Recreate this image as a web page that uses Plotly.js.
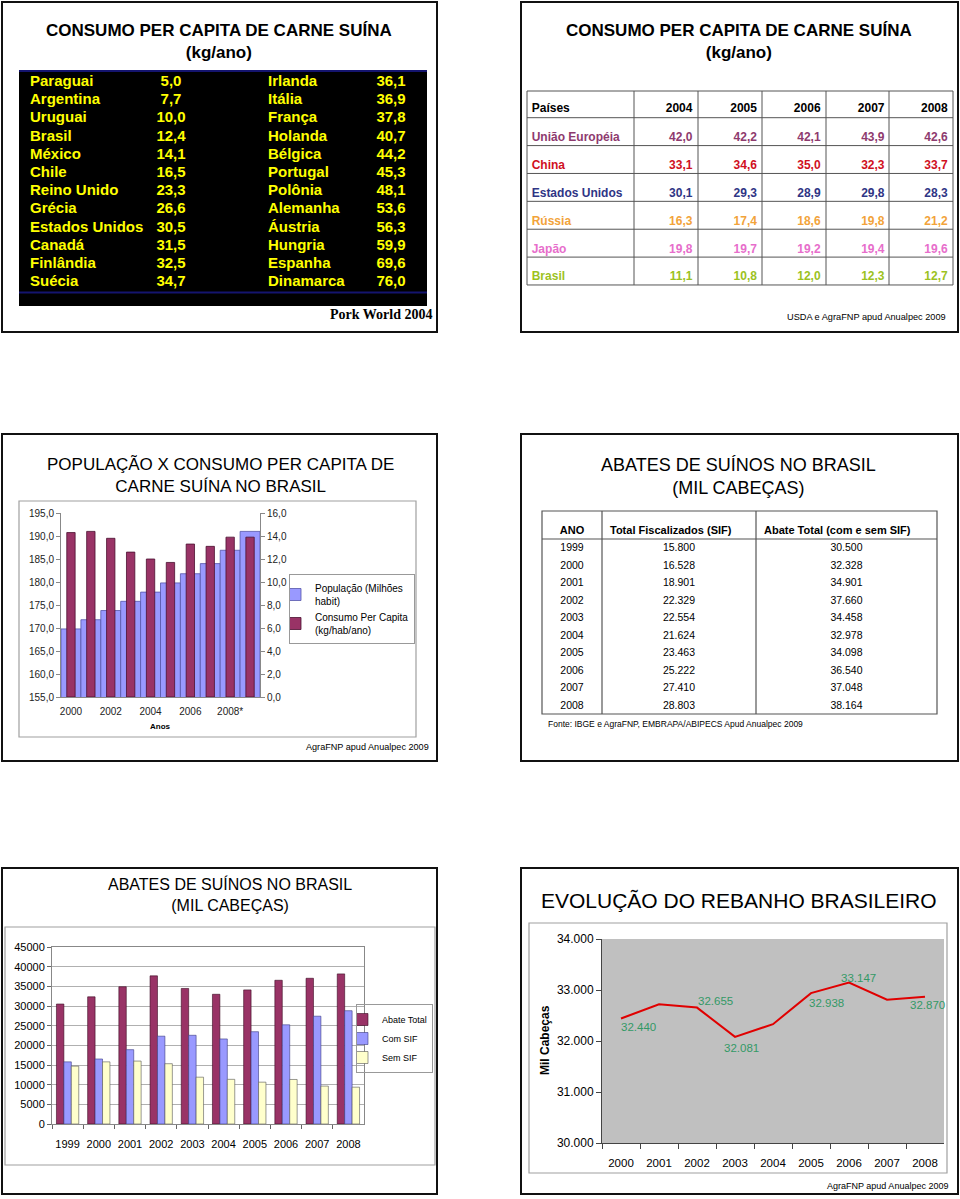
<!DOCTYPE html>
<html><head><meta charset="utf-8">
<script src="https://cdn.plot.ly/plotly-3.0.1.min.js"></script>
<style>html,body{margin:0;padding:0;background:#fff;}#chart{width:960px;height:1199px;}</style>
</head><body><div id="chart"></div>
<script>
// ---------------- DATA ----------------
const consumoPaises1 = ['Paraguai','Argentina','Uruguai','Brasil','México','Chile','Reino Unido','Grécia','Estados Unidos','Canadá','Finlândia','Suécia'];
const consumoValores1 = [5.0,7.7,10.0,12.4,14.1,16.5,23.3,26.6,30.5,31.5,32.5,34.7];
const consumoPaises2 = ['Irlanda','Itália','França','Holanda','Bélgica','Portugal','Polônia','Alemanha','Áustria','Hungria','Espanha','Dinamarca'];
const consumoValores2 = [36.1,36.9,37.8,40.7,44.2,45.3,48.1,53.6,56.3,59.9,69.6,76.0];

const anosConsumo = ['2004','2005','2006','2007','2008'];
const paisesConsumo = ['União Européia','China','Estados Unidos','Rússia','Japão','Brasil'];
const ueConsumo = [42.0,42.2,42.1,43.9,42.6];
const chinaConsumo = [33.1,34.6,35.0,32.3,33.7];
const euaConsumo = [30.1,29.3,28.9,29.8,28.3];
const russiaConsumo = [16.3,17.4,18.6,19.8,21.2];
const japaoConsumo = [19.8,19.7,19.2,19.4,19.6];
const brasilConsumo = [11.1,10.8,12.0,12.3,12.7];

const anosPop = ['2000','2001','2002','2003','2004','2005','2006','2007','2008*','2009*'];
const populacao = [169.8,171.8,173.8,175.8,177.8,179.8,181.8,184.0,186.9,191.0];
const consumoPerCapita = [14.3,14.4,13.8,12.6,12.0,11.7,13.3,13.1,13.9,13.9];

const anosAbate = ['1999','2000','2001','2002','2003','2004','2005','2006','2007','2008'];
const totalFiscalizados = [15800,16528,18901,22329,22554,21624,23463,25222,27410,28803];
const abateTotal = [30500,32328,34901,37660,34458,32978,34098,36540,37048,38164];
const semSIF = [14700,15800,16000,15331,11904,11354,10635,11318,9638,9361];

const anosRebanho = ['2000','2001','2002','2003','2004','2005','2006','2007','2008'];
const rebanho = [32440,32720,32655,32081,32330,32938,33147,32810,32870];

// ---------------- HELPERS ----------------
const W = 960, H = 1199;
const px = x => x / W;
const py = y => 1 - y / H;
const dec1 = v => v.toFixed(1).replace('.', ',');
const thou = v => String(v).replace(/\B(?=(\d{3})+(?!\d))/g, '.');
const nb = s => s.replace(/ /g, '\u00a0');
const SANS = 'Liberation Sans, Arial, sans-serif';
const CLEAR = 'rgba(0,0,0,0)';

const traces = [];
const shapes = [];
const annotations = [];

function box(x0, y0, x1, y1, color, width, fill) {
  shapes.push({type:'rect', xref:'paper', yref:'paper', x0:px(x0), x1:px(x1), y0:py(y1), y1:py(y0),
    line:{color:color, width:width}, fillcolor: fill || CLEAR, layer:'below'});
}
function hline(x0, x1, y, color, width) {
  shapes.push({type:'line', xref:'paper', yref:'paper', x0:px(x0), x1:px(x1), y0:py(y), y1:py(y), line:{color:color, width:width}});
}
function vline(x, y0, y1, color, width) {
  shapes.push({type:'line', xref:'paper', yref:'paper', x0:px(x), x1:px(x), y0:py(y0), y1:py(y1), line:{color:color, width:width}});
}
function note(text, x, y, size, opts) {
  annotations.push(Object.assign({text:text, xref:'paper', yref:'paper', x:px(x), y:py(y), showarrow:false,
    xanchor:'center', yanchor:'middle', font:{family:SANS, size:size, color:'#000'}}, opts || {}));
}

// panel borders
[[2,2,437,332],[521,2,958,332],[2,434,437,761],[521,434,958,761],[2,868,437,1194],[521,868,958,1194]]
  .forEach(b => box(b[0], b[1], b[2], b[3], '#111', 2));

// ---------------- PANEL 1 ----------------
note('CONSUMO PER CAPITA DE CARNE SUÍNA<br>(kg/ano)', 219, 41.5, 17, {font:{family:SANS, size:17, color:'#000', weight:'bold'}});
box(19, 70, 427, 306, '#000', 0, '#000');
hline(19, 427, 71, '#14146e', 2);
hline(19, 427, 292.5, '#14146e', 2);
const P1_ROW = 18.2, P1_TOP = 50.8;
function p1Table(names, vals, x0, x1, widths) {
  traces.push({type:'table', domain:{x:[px(x0), px(x1)], y:[py(P1_TOP + 16 + 12 * P1_ROW + 6), py(P1_TOP)]},
    columnwidth: widths,
    header:{values:[], fill:{color:CLEAR}, line:{color:CLEAR, width:0}},
    cells:{values:[names.map(nb), vals.map(dec1)], height:P1_ROW, align:['left','center'],
      fill:{color:CLEAR}, line:{color:CLEAR, width:0},
      font:{family:SANS, size:15, color:'#ffff00', weight:'bold'}}});
}
p1Table(consumoPaises1, consumoValores1, 22, 190, [130, 38]);
p1Table(consumoPaises2, consumoValores2, 260, 417, [105, 52]);
note('Pork World 2004', 434, 314.5, 14, {xanchor:'right', font:{family:'Liberation Serif, Times New Roman, serif', size:14, color:'#000', weight:'bold'}});

// ---------------- PANEL 2 ----------------
note('CONSUMO PER CAPITA DE CARNE SUÍNA<br>(kg/ano)', 739, 41.5, 17, {font:{family:SANS, size:17, color:'#000', weight:'bold'}});
const p2Rows = [ueConsumo, chinaConsumo, euaConsumo, russiaConsumo, japaoConsumo, brasilConsumo];
const p2Colors = ['#8e3a6e','#d0101e','#2f3585','#f2a33a','#e76ecb','#9cc21e'];
const P2_GTOP = 91, P2_HDR = 26.7, P2_ROW = 27.88;
const p2Lines = [527, 634, 698, 762, 826, 889, 953];
for (let i = 0; i <= paisesConsumo.length; i++) hline(527, 953, P2_GTOP + P2_HDR + i * P2_ROW, '#555', 1);
hline(527, 953, P2_GTOP, '#555', 1);
p2Lines.forEach(x => vline(x, P2_GTOP, P2_GTOP + P2_HDR + paisesConsumo.length * P2_ROW, '#555', 1));
traces.push({type:'table', domain:{x:[px(523.7), px(956.3)], y:[py(300), py(94.6)]},
  columnwidth:[113, 64, 64.6, 63.7, 64, 63.3],
  header:{values:['Países'].concat(anosConsumo), height:29.4, align:['left','right'],
    fill:{color:CLEAR}, line:{color:CLEAR, width:0}, font:{family:SANS, size:12, color:'#000', weight:'bold'}},
  cells:{values:[paisesConsumo.map(nb)].concat(anosConsumo.map((_, j) => p2Rows.map(r => dec1(r[j])))),
    height:P2_ROW, align:['left','right'], fill:{color:CLEAR}, line:{color:CLEAR, width:0},
    font:{family:SANS, size:12, weight:'bold', color: anosConsumo.concat(['x']).map(() => p2Colors)}}});
note('USDA e AgraFNP apud Anualpec 2009', 948, 316.7, 9.2, {xanchor:'right'});

// ---------------- PANEL 3 ----------------
note('POPULAÇÃO X CONSUMO PER CAPITA DE<br>CARNE SUÍNA NO BRASIL', 220, 475, 17);
box(19, 501, 416, 737, '#a0a0a0', 1.2);
traces.push({type:'bar', x:anosPop, y:populacao, name:'População (Milhões<br>habit)', xaxis:'x', yaxis:'y',
  width:1, offset:-0.5, marker:{color:'#9999ff', line:{color:'#5555aa', width:0.8}}, legend:'legend'});
traces.push({type:'bar', x:anosPop, y:consumoPerCapita, name:'Consumo Per Capita<br>(kg/hab/ano)', xaxis:'x', yaxis:'y2',
  width:0.42, offset:-0.21, marker:{color:'#993366', line:{color:'#4a1030', width:0.8}}, legend:'legend'});
note('Anos', 160, 726, 8, {font:{family:SANS, size:8, color:'#000', weight:'bold'}});
note('AgraFNP apud Anualpec 2009', 431, 746.7, 9.1, {xanchor:'right'});

// ---------------- PANEL 4 ----------------
note('ABATES DE SUÍNOS NO BRASIL<br>(MIL CABEÇAS)', 738, 476, 18);
box(542, 511, 937, 714, '#555', 1.2);
hline(542, 937, 539, '#555', 1.2);
vline(602, 511, 714, '#555', 1.2);
vline(756, 511, 714, '#555', 1.2);
traces.push({type:'table', domain:{x:[px(542), px(937)], y:[py(725), py(517.7)]},
  columnwidth:[60, 154, 181],
  header:{values:['ANO', nb('Total Fiscalizados (SIF)'), nb('Abate Total (com e sem SIF)')], height:17.9,
    align:['center','left','left'], fill:{color:CLEAR}, line:{color:CLEAR, width:0},
    font:{family:SANS, size:11, color:'#000', weight:'bold'}},
  cells:{values:[anosAbate, totalFiscalizados.map(thou), abateTotal.map(thou)], height:17.5, align:'center',
    fill:{color:CLEAR}, line:{color:CLEAR, width:0}, font:{family:SANS, size:10.5, color:'#000'}}});
note('Fonte: IBGE e AgraFNP, EMBRAPA/ABIPECS Apud Anualpec 2009', 546, 724, 8.5, {xanchor:'left'});

// ---------------- PANEL 5 ----------------
note('ABATES DE SUÍNOS NO BRASIL<br>(MIL CABEÇAS)', 230, 894.7, 16);
box(5, 927, 435, 1165, '#a0a0a0', 1.2);
traces.push({type:'bar', x:anosAbate, y:abateTotal, name:'Abate Total', xaxis:'x2', yaxis:'y3', legend:'legend2',
  marker:{color:'#993366', line:{color:'#3a0a22', width:0.6}}});
traces.push({type:'bar', x:anosAbate, y:totalFiscalizados, name:'Com SIF', xaxis:'x2', yaxis:'y3', legend:'legend2',
  marker:{color:'#9999ff', line:{color:'#3a3a80', width:0.6}}});
traces.push({type:'bar', x:anosAbate, y:semSIF, name:'Sem SIF', xaxis:'x2', yaxis:'y3', legend:'legend2',
  marker:{color:'#ffffcc', line:{color:'#555', width:0.6}}});

// ---------------- PANEL 6 ----------------
note('EVOLUÇÃO DO REBANHO BRASILEIRO', 738.5, 900, 21);
box(529, 923, 947, 1173, '#a0a0a0', 1.2);
shapes.push({type:'rect', xref:'x3 domain', yref:'y4 domain', x0:0, x1:1, y0:0, y1:1, fillcolor:'#c0c0c0', line:{width:0}, layer:'below'});
traces.push({type:'scatter', mode:'lines', x:anosRebanho, y:rebanho, xaxis:'x3', yaxis:'y4', showlegend:false,
  line:{color:'#e00000', width:2}});
const rebanhoLabelShift = {0:[17,-8], 2:[18,7], 3:[6,-11], 5:[15.5,-10], 6:[9,5], 8:[2,-8]};
Object.keys(rebanhoLabelShift).forEach(k => {
  const i = +k;
  annotations.push({xref:'x3', yref:'y4', x:i, y:rebanho[i], text:thou(rebanho[i]), showarrow:false,
    xanchor:'center', yanchor:'middle',
    xshift:rebanhoLabelShift[k][0], yshift:rebanhoLabelShift[k][1], font:{family:SANS, size:11.5, color:'#339966'}});
});
note('Mil Cabeças', 545, 1040, 12, {textangle:-90, font:{family:SANS, size:12, color:'#000', weight:'bold'}});
note('AgraFNP apud Anualpec 2009', 950, 1185.7, 9, {xanchor:'right'});

// ---------------- LAYOUT ----------------
const axBase = {fixedrange:true, zeroline:false, showgrid:false};
const layout = {
  width:W, height:H, margin:{l:0, r:0, t:0, b:0, pad:0},
  paper_bgcolor:'#fff', plot_bgcolor:CLEAR,
  font:{family:SANS, size:10, color:'#000'},
  separators:',.', barmode:'group', bargap:0.285, bargroupgap:0, hovermode:false,
  xaxis: Object.assign({}, axBase, {domain:[px(61), px(260)], anchor:'y', type:'category', range:[-0.5, 9.5],
    tickvals: anosPop.filter((_, i) => i % 2 === 0), ticks:'', showline:true, linecolor:'#888',
    ticklabelstandoff:5, tickfont:{family:SANS, size:10, color:'#222'}}),
  yaxis: Object.assign({}, axBase, {domain:[py(697), py(513)], anchor:'x', range:[155, 195], dtick:5, tick0:155,
    tickformat:'.1f', ticks:'outside', ticklen:4, tickcolor:'#888', showline:true, linecolor:'#888',
    tickfont:{family:SANS, size:10, color:'#222'}}),
  yaxis2: Object.assign({}, axBase, {overlaying:'y', side:'right', anchor:'x', range:[0, 16], dtick:2, tick0:0,
    tickformat:'.1f', ticks:'outside', ticklen:4, tickcolor:'#888', showline:true, linecolor:'#888',
    tickfont:{family:SANS, size:10, color:'#222'}}),
  xaxis2: Object.assign({}, axBase, {domain:[px(52), px(364)], anchor:'y3', type:'category', tickangle:0,
    ticks:'outside', tickson:'boundaries', ticklen:4, tickcolor:'#666', showline:true, mirror:true, linecolor:'#888',
    ticklabelstandoff:10, tickfont:{family:SANS, size:11, color:'#000'}}),
  yaxis3: Object.assign({}, axBase, {domain:[py(1124), py(947)], anchor:'x2', range:[0, 45000], dtick:5000,
    tickformat:'d', ticks:'outside', ticklen:4, tickcolor:'#666', showline:true, mirror:true, linecolor:'#888',
    showgrid:true, gridcolor:'#b0b0b0', tickfont:{family:SANS, size:11, color:'#000'}}),
  xaxis3: Object.assign({}, axBase, {domain:[px(602), px(944)], anchor:'y4', type:'category', range:[-0.5, 8.5],
    tickangle:0, ticks:'outside', tickson:'boundaries', ticklen:5, tickcolor:'#444', showline:true, linecolor:'#444',
    ticklabelstandoff:9, tickfont:{family:SANS, size:11.5, color:'#000'}}),
  yaxis4: Object.assign({}, axBase, {domain:[py(1143), py(939)], anchor:'x3', range:[30000, 34000], dtick:1000,
    tickformat:',.0f', ticks:'outside', ticklen:5, tickcolor:'#444', showline:true, linecolor:'#444',
    tickfont:{family:SANS, size:12, color:'#000'}}),
  legend:{x:px(289), y:py(574), xanchor:'left', yanchor:'top', bordercolor:'#999', borderwidth:1,
    bgcolor:CLEAR, indentation:-15, font:{family:SANS, size:10, color:'#000'}},
  legend2:{x:px(356), y:py(1004), xanchor:'left', yanchor:'top', bordercolor:'#999', borderwidth:1,
    bgcolor:CLEAR, indentation:-15, font:{family:SANS, size:9, color:'#000'}},
  shapes: shapes,
  annotations: annotations
};

Plotly.newPlot('chart', traces, layout, {staticPlot:true, displayModeBar:false});
</script>
</body></html>
